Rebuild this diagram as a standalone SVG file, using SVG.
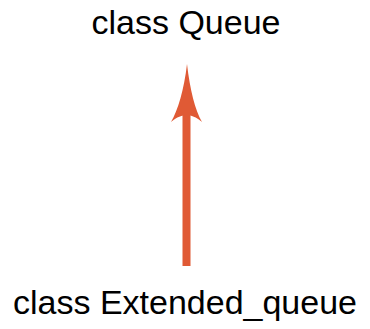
<svg xmlns="http://www.w3.org/2000/svg" width="370" height="329" viewBox="0 0 370 329">
<style>
.lbl{font-family:"Liberation Sans",Arial,Helvetica,sans-serif;font-size:34px;fill:#000;text-anchor:middle}
.edge{stroke:#E05A35;stroke-width:8;fill:none}
.head{fill:#E05A35}
</style>
<g id="connectors">
<line class="edge" x1="186.5" y1="266" x2="186.5" y2="112"/>
<path class="head" d="M187,64 C190,90 195,110 202,122 C196,117 191,115 187,115 C182,115 177,117 171,122 C178,110 184,90 187,64 Z"/>
</g>
<g id="queue"><text class="lbl" x="186" y="34">class Queue</text></g>
<g id="extended_queue"><text class="lbl" x="185" y="314">class Extended_queue</text></g>
</svg>
